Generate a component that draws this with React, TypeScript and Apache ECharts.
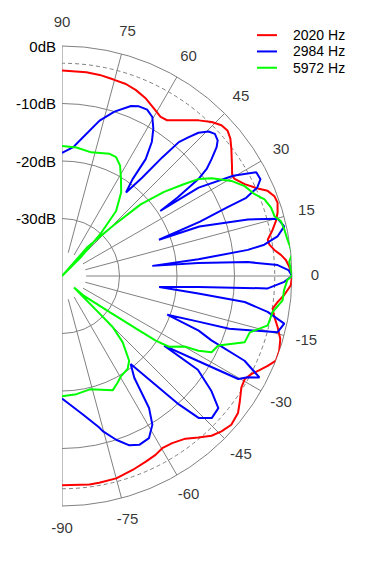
import React, { useEffect, useRef } from "react";
import * as echarts from "echarts";

// ---- data (angle in degrees, level in dB) ----
const seriesNames = ["2020 Hz", "2984 Hz", "5972 Hz"];
const seriesColors = ["#ff0000", "#0000ff", "#00ff00"];
const angleTicks = [90, 75, 60, 45, 30, 15, 0, -15, -30, -45, -60, -75, -90];

const red2020: [number, number][] = [
  [90, -4.26], [83.2, -4.31], [79.4, -4.42], [75.5, -4.67], [71.6, -4.81], [68.3, -5.21],
  [64.7, -5.86], [61.2, -6.77], [58.2, -7.46], [56.0, -7.33], [48.75, -4.0], [45.8, -2.65],
  [43.4, -1.84], [41.35, -1.67], [39.2, -2.21], [36.9, -3.17], [33.0, -4.75], [30.9, -5.52],
  [29.5, -5.6], [26.7, -4.44], [24.1, -2.7], [22.5, -1.3], [20.6, -0.54], [18.8, -0.4],
  [16.35, -0.93], [14.4, -1.6], [12.4, -2.49], [10.0, -3.67], [8.6, -3.52], [7.0, -2.8],
  [5.5, -1.75], [4.1, -0.97], [2.4, -0.46], [0, 0],
  [-2.3, -0.18], [-4.9, -1.21], [-6.9, -2.24], [-8.8, -2.93], [-10.9, -2.39], [-13.3, -1.47],
  [-16.1, -0.49], [-19.0, -0.04], [-21.6, 0.02], [-23.6, -0.97], [-25.5, -1.95], [-27.4, -2.93],
  [-29.5, -3.51], [-31.9, -3.26], [-35.1, -2.19], [-37.9, -1.21], [-41.3, -0.81], [-44.25, -1.28],
  [-46.9, -1.95], [-49.8, -3.25], [-52.8, -4.49], [-56.6, -5.19], [-59.8, -5.35], [-62.4, -4.89],
  [-65.7, -4.58], [-70.0, -4.1], [-75.0, -3.56], [-79.8, -3.46], [-82.5, -3.42], [-90, -3.63],
];

const blue2984: [number, number][] = [
  [90, -18.6], [85, -17.5], [81.9, -15.9], [76.4, -12.2], [72.3, -10.0], [67.9, -8.1],
  [65.6, -7.6], [62.9, -7.5], [60.4, -8.2], [58.2, -9.86], [56.2, -11.9], [54.4, -15.0],
  [53.9, -19.2], [52.5, -21.7], [50.8, -17.9], [49.8, -13.0], [48.9, -9.1], [47.6, -7.3],
  [46.4, -5.6], [44.6, -4.2], [42.9, -3.7], [41.05, -4.1], [39.8, -5.0], [38.0, -7.0],
  [36.5, -8.7], [35.4, -10.9], [34.2, -15.7], [33.5, -19.5], [32.9, -11.7], [30.35, -5.5],
  [28.1, -1.7], [26.0, -1.6], [24.4, -2.7], [23.0, -5.2], [22.6, -8.8], [21.5, -14.2],
  [20.5, -22], [19.8, -14.6], [16.9, -6.2], [14.9, -1.2], [12.6, -0.4], [10.4, -1.9],
  [8.8, -4.4], [8.0, -7.35], [7.0, -16.1], [6.4, -24.2], [5.5, -16.2], [4.3, -7.6],
  [2.9, -2.45], [1.5, -0.6], [0, 0],
  [-1.5, -1.33], [-3.45, -4.16], [-4.6, -16.2], [-6.4, -23], [-7.3, -16.1], [-8.1, -7.9],
  [-9.9, -3.7], [-12.1, -0.47], [-14.6, -1.25], [-17.5, -9.5], [-18.5, -15], [-20.2, -20.5],
  [-21.8, -14.4], [-23.3, -11.7], [-24.9, -5], [-27.2, -1.4], [-28.6, -3.2], [-30.3, -4.5],
  [-32.0, -12.1], [-34.3, -18.5], [-34.6, -11.3], [-37.6, -7.2], [-40.2, -4.4], [-43.5, -4.1],
  [-46.1, -5.75], [-47.7, -9.8], [-52, -20.6], [-54.6, -18.3], [-56.6, -12.5], [-58.7, -9.75],
  [-61.8, -8.0], [-65.4, -7.7], [-68.3, -8.3], [-71.7, -10.0], [-75.3, -12.1], [-76.1, -12.8],
  [-81.3, -15.6], [-86.5, -17.6], [-90, -18.7],
];

const green5972: [number, number][] = [
  [90, -17.4], [83.6, -17.5], [76.7, -17.9], [68.7, -17.2], [65.5, -17.3], [62.25, -18.3],
  [58.6, -20.3], [54.7, -22.2], [50.2, -25.3], [47.7, -29.9], [45, -35.2], [46, -40],
  [48.6, -33.2], [44.4, -27.2], [42.3, -21.5], [39.5, -17.0], [37, -13.5], [35.4, -10.9],
  [33.1, -8.9], [29.3, -6.2], [26.2, -4.6], [23, -3.6], [20.7, -2.35], [18.1, -1.75],
  [15.7, -1.6], [14, -0.75], [11.8, -0.5], [9.15, -0.28], [5.7, 0.27], [3.6, -0.4], [0, 0],
  [-1, -0.8], [-3.6, -1.3], [-6.3, -1.4], [-9.7, -2.84], [-13.5, -3.2], [-16.7, -5.9],
  [-19.9, -6.2], [-24, -10.25], [-27, -10.8], [-28.7, -12.95], [-29.8, -15.3], [-33.5, -17.7],
  [-34.6, -20.2], [-35.2, -23.6], [-37.2, -29.6], [-42.3, -35], [-43.8, -37.1], [-45, -30.8],
  [-45.2, -27.5], [-47.5, -24.4], [-51.6, -21.2], [-54.8, -20.2], [-59.4, -19.8], [-62.4, -19.1],
  [-66.1, -18.25], [-76.2, -19.7], [-83, -19.3], [-90, -19.1],
];

const seriesData = [red2020, blue2984, green5972];

// ---- layout ----
const CX = 62;
const CY = 276;
const R = 230;
const DB_MIN = -40;
const DB_MAX = 0;
const DASH_DB = -3;
const LABEL_DB = 4.0;
const SPOKE_IN = -35.8;
const SPOKE_OUT = 2.2;
const FONT = "'Liberation Sans', Arial, Helvetica, sans-serif";
const GRID = "#808080";

export default function App() {
  const ref = useRef<HTMLDivElement>(null);

  useEffect(() => {
    if (!ref.current) return;
    const chart = echarts.init(ref.current, null, { renderer: "svg" });

    const halfAngle = (polarIndex: number) => ({
      polarIndex,
      type: "value",
      min: -90,
      max: 90,
      startAngle: -90,
      endAngle: 90,
      clockwise: false,
      axisLine: { show: false },
      axisTick: { show: false },
      axisLabel: { show: false },
      splitLine: { show: false },
    });

    const spokeData: any[] = [];
    angleTicks.forEach((a) => {
      const inner = Math.abs(a) === 90 ? DB_MIN : SPOKE_IN;
      spokeData.push([inner, a], [SPOKE_OUT, a], ["-", "-"]);
    });

    const option: any = {
      animation: false,
      backgroundColor: "#ffffff",
      polar: [
        { center: [CX, CY], radius: R },
        { center: [CX, CY], radius: R },
        { center: [CX, CY], radius: (R * (DASH_DB - DB_MIN)) / (DB_MAX - DB_MIN) },
      ],
      angleAxis: [
        halfAngle(0),
        {
          polarIndex: 1,
          type: "value",
          startAngle: 90,
          min: 0,
          max: 360,
          show: false,
        },
        halfAngle(2),
      ],
      radiusAxis: [
        {
          polarIndex: 0,
          type: "value",
          min: DB_MIN,
          max: DB_MAX,
          interval: 10,
          axisLine: { show: false },
          axisTick: { show: false },
          axisLabel: { show: false },
          splitLine: { show: true, lineStyle: { color: GRID, width: 1 } },
        },
        {
          polarIndex: 1,
          type: "value",
          min: DB_MIN,
          max: DB_MAX,
          interval: 10,
          axisLine: { show: false },
          axisTick: { show: false },
          splitLine: { show: false },
          axisLabel: {
            show: true,
            margin: 6,
            fontSize: 15,
            fontFamily: FONT,
            color: "#000",
            formatter: (v: number) => (v === DB_MIN ? "" : v + "dB"),
          },
        },
        {
          polarIndex: 2,
          type: "value",
          min: 0,
          max: 1,
          interval: 1,
          axisLine: { show: false },
          axisTick: { show: false },
          axisLabel: { show: false },
          splitLine: { show: true, lineStyle: { color: GRID, width: 1, type: [4, 3] } },
        },
      ],
      legend: {
        data: seriesNames,
        orient: "vertical",
        left: 257,
        top: 27,
        padding: 0,
        itemGap: 0,
        itemWidth: 20,
        itemHeight: 2,
        icon: "rect",
        selectedMode: false,
        textStyle: {
          fontSize: 14,
          fontFamily: FONT,
          color: "#000",
          lineHeight: 16.3,
          padding: [0, 0, 0, 11],
        },
      },
      series: [
        {
          type: "line",
          coordinateSystem: "polar",
          polarIndex: 0,
          data: spokeData,
          symbol: "none",
          clip: false,
          silent: true,
          lineStyle: { color: GRID, width: 1 },
          z: 1,
        },
        ...seriesData.map((pts, i) => ({
          name: seriesNames[i],
          type: "line",
          coordinateSystem: "polar",
          polarIndex: 0,
          data: pts.map(([a, d]) => [d, a]),
          symbol: "none",
          showSymbol: false,
          clip: false,
          silent: true,
          lineStyle: { color: seriesColors[i], width: 2 },
          itemStyle: { color: seriesColors[i] },
          z: 3 + i,
        })),
        {
          type: "scatter",
          coordinateSystem: "polar",
          polarIndex: 0,
          data: angleTicks.map((a) => [LABEL_DB, a]),
          symbolSize: 1,
          clip: false,
          silent: true,
          itemStyle: { color: "rgba(0,0,0,0)" },
          label: {
            show: true,
            position: "inside",
            offset: [0, -1.5],
            formatter: (p: any) => String(p.value[1]),
            fontSize: 15,
            fontFamily: FONT,
            color: "#000",
          },
          z: 5,
        },
      ],
    };

    chart.setOption(option);
    return () => chart.dispose();
  }, []);

  return (
    <div
      ref={ref}
      style={{ position: "fixed", left: 0, top: 0, width: 369, height: 582, background: "#fff" }}
    />
  );
}
